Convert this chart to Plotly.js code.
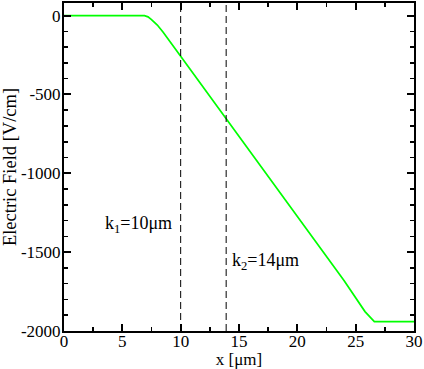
<!DOCTYPE html>
<html>
<head>
<meta charset="utf-8">
<script src="https://cdn.plot.ly/plotly-3.0.1.min.js"></script>
<style>html,body{margin:0;padding:0;background:#fff}#chart{width:424px;height:369px}</style>
</head>
<body>
<div id="chart"></div>
<script>
const xPos = [0, 3, 6.9, 7.2, 7.5, 8, 8.5, 10, 12, 14, 16, 18, 20, 22, 24, 25.8, 26.3, 26.6, 28, 30];
const field = [0, 0, 0, -8, -25, -60, -105, -258, -462, -665, -868, -1071, -1274, -1477, -1680, -1877, -1920, -1940, -1940, -1940];
const markerX = [10, 13.9];
const markerLabels = ['k<sub>1</sub>=10μm', 'k<sub>2</sub>=14μm'];
const markerLabelX = [3.3, 14.2];
const markerLabelY = [-1327, -1562];
const xTicks = [0, 5, 10, 15, 20, 25, 30];
const yTicks = [-2000, -1500, -1000, -500, 0];

const fam = 'Liberation Serif, Times New Roman, serif';
const tickFont = {family: fam, color: '#000', size: 17};
const xTitleFont = {family: fam, color: '#000', size: 17};
const yTitleFont = {family: fam, color: '#000', size: 18.5};
const annFont = {family: fam, color: '#000', size: 18};

const traces = [{
  x: xPos, y: field, type: 'scatter', mode: 'lines',
  line: {color: '#00ff00', width: 1.7}, hoverinfo: 'skip'
}];

const shapes = markerX.map(v => ({
  type: 'line', xref: 'x', yref: 'paper', x0: v, x1: v, y0: 0, y1: 1,
  line: {color: '#000', width: 1, dash: '7px,4px'}
}));

const annotations = markerLabels.map((t, i) => ({
  text: t, x: markerLabelX[i], y: markerLabelY[i], xref: 'x', yref: 'y',
  xanchor: 'left', yanchor: 'middle', showarrow: false, font: annFont
}));

const axisCommon = {
  showline: true, linecolor: '#000', linewidth: 2, mirror: 'ticks',
  ticks: 'inside', ticklen: 7, tickwidth: 2, tickcolor: '#000',
  showgrid: false, zeroline: false, tickfont: tickFont
};

const layout = {
  width: 424, height: 369,
  margin: {l: 64, r: 10, t: 3, b: 38, pad: 0},
  paper_bgcolor: '#fff', plot_bgcolor: '#fff',
  showlegend: false, font: tickFont,
  xaxis: Object.assign({}, axisCommon, {
    range: [0, 30], tickvals: xTicks, ticktext: xTicks.map(String),
    ticklabelstandoff: -6,
    minor: {ticks: 'inside', dtick: 2.5, tick0: 0, ticklen: 4, tickwidth: 1.5, tickcolor: '#000'},
    title: {text: 'x [μm]', font: xTitleFont, standoff: 5}
  }),
  yaxis: Object.assign({}, axisCommon, {
    range: [-2000, 80], tickvals: yTicks, ticktext: yTicks.map(String),
    ticklabelstandoff: -2,
    minor: {ticks: 'inside', dtick: 100, tick0: 0, ticklen: 4, tickwidth: 1.5, tickcolor: '#000'},
    title: {text: 'Electric Field [V/cm]', font: yTitleFont, standoff: 4}
  }),
  shapes: shapes,
  annotations: annotations
};

Plotly.newPlot('chart', traces, layout, {staticPlot: true, displayModeBar: false});
</script>
</body>
</html>
